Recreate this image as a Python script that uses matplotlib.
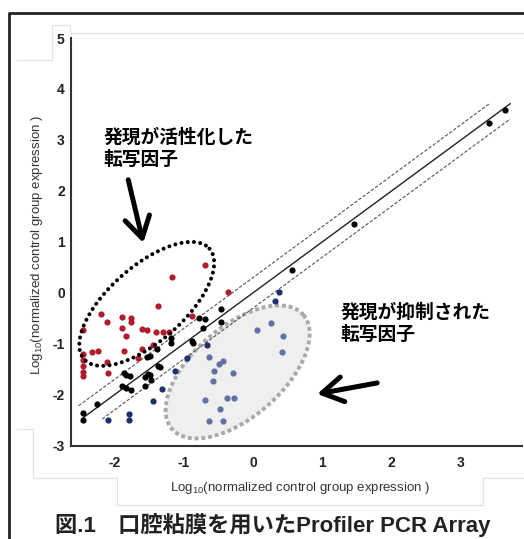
import numpy as np
import matplotlib
matplotlib.use('Agg')
import matplotlib.pyplot as plt
from matplotlib.lines import Line2D

plt.rcParams['font.family'] = ['Liberation Sans', 'DejaVu Sans']
plt.rcParams['mathtext.fontset'] = 'custom'
plt.rcParams['mathtext.rm'] = 'Liberation Sans'
plt.rcParams['mathtext.it'] = 'Liberation Sans'

# --- data (log10 values) ---
red_x = [-1.17, -0.69, -0.37, -1.37, -2.19, -1.89, -1.77, -1.76, -2.11, -1.89,
         -1.61, -1.53, -1.41, -1.30, -1.22, -2.46, -1.83, -0.88, -2.45, -2.33,
         -2.24, -2.45, -2.45, -2.45, -2.45, -2.11, -2.09, -1.86, -1.61, -1.66, -1.45]
red_y = [0.30, 0.55, 0.02, -0.27, -0.42, -0.47, -0.50, -0.58, -0.57, -0.69,
         -0.72, -0.73, -0.77, -0.77, -0.77, -0.73, -0.86, -0.45, -1.20, -1.16,
         -1.15, -1.32, -1.44, -1.55, -1.63, -1.37, -1.58, -1.14, -1.11, -1.29, -1.03]

black_x = [3.64, 3.41, 1.46, 0.56, -0.46, -0.46, -0.78, -0.70, -0.73, -0.88,
           -0.87, -1.18, -1.18, -1.39, -1.53, -1.49, -1.38, -1.34, -1.52, -1.48,
           -1.56, -1.86, -1.83, -1.78, -1.89, -1.83, -1.76, -2.26, -2.46, -2.46,
           -1.56, -1.49]
black_y = [3.59, 3.34, 1.35, 0.45, -0.32, -0.57, -0.50, -0.52, -0.70, -0.94,
           -0.99, -0.89, -0.98, -1.11, -1.27, -1.24, -1.43, -1.46, -1.60, -1.71,
           -1.83, -1.58, -1.61, -1.63, -1.84, -1.88, -1.91, -2.18, -2.36, -2.50,
           -1.65, -1.62]

navy_x = [0.37, 0.31, -0.67, -0.96, -1.13, -1.32, -1.45, -2.09, -1.79, -1.79]
navy_y = [0.02, -0.17, -1.03, -1.29, -1.53, -1.90, -2.13, -2.49, -2.39, -2.49]

blue_x = [0.26, 0.05, 0.43, 0.41, -0.64, -0.49, -0.43, -0.57, -0.29, -0.58,
          -0.70, -0.48, -0.38, -0.27, -0.64, -0.43]
blue_y = [-0.59, -0.74, -0.85, -1.17, -1.27, -1.40, -1.34, -1.53, -1.58, -1.73,
          -2.11, -2.28, -2.06, -2.07, -2.52, -2.52]

# reference lines y = x + offset, with their x extents
line_offsets = [0.0, 0.3, -0.3]
line_ranges = [(-2.45, 3.71), (-2.52, 3.41), (-2.18, 3.71)]

x_ticks = [-2, -1, 0, 1, 2, 3]
y_ticks = [-3, -2, -1, 0, 1, 2, 3, 4, 5]
axis_label = r'Log$_{\mathrm{10}}$(normalized control group expression )'
up_text = '発現が活性化した\n転写因子'
down_text = '発現が抑制された\n転写因子'
caption = '図.1\u3000口腔粘膜を用いたProfiler PCR Array'

W, H = 524, 539
fig = plt.figure(figsize=(W / 100, H / 100), dpi=100)
ax = fig.add_axes([71 / W, 1 - 445.5 / H, 451 / W, 407.5 / H])
ax.set_xlim(-2.63, 3.88)
ax.set_ylim(-3, 5)

# highlighted regions (ellipses: centre + two semi-axis vectors)
t = np.linspace(0, 2 * np.pi, 500)
gc, ga, gb = (-0.224, -1.556), (0.948, 1.122), (0.426, -0.668)
ex = gc[0] + ga[0] * np.cos(t) + gb[0] * np.sin(t)
ey = gc[1] + ga[1] * np.cos(t) + gb[1] * np.sin(t)
ax.fill(ex, ey, color='#efefef', zorder=1, lw=0)
ax.plot(ex, ey, color='#a9a9a9', lw=2.8, ls=(0, (1.0, 0.75)),
        dash_capstyle='butt', zorder=2)

for off, (x0, x1) in zip(line_offsets, line_ranges):
    xs = np.array([x0, x1])
    if off == 0:
        ax.plot(xs, xs + off, color='#222222', lw=1.0, zorder=3)
    else:
        ax.plot(xs, xs + off, color='#555555', lw=0.8, ls=(0, (3, 1.6)), zorder=3)

ax.scatter(blue_x, blue_y, s=20, color='#6072a4', lw=0, zorder=4)
ax.scatter(navy_x, navy_y, s=20, color='#1d2f6c', lw=0, zorder=4)
ax.scatter(red_x, red_y, s=20, color='#b31b2c', lw=0, zorder=4)
ax.scatter(black_x, black_y, s=20, color='#000000', lw=0, zorder=5)

bc, ba, bb = (-1.537, -0.220), (0.906, 1.084), (0.357, -0.554)
bx = bc[0] + ba[0] * np.cos(t) + bb[0] * np.sin(t)
by = bc[1] + ba[1] * np.cos(t) + bb[1] * np.sin(t)
ax.plot(bx, by, color='black', lw=2.9, ls=(0, (0.01, 1.55)),
        dash_capstyle='round', zorder=6)

# arrows and notes
arrow = dict(arrowstyle='->,head_length=0.75,head_width=0.45', lw=3.6,
             color='black', mutation_scale=20, shrinkA=0, shrinkB=0)
ax.annotate('', xy=(-1.587, 0.978), xytext=(-1.804, 2.216), arrowprops=arrow)
ax.annotate('', xy=(0.924, -1.988), xytext=(1.789, -1.772), arrowprops=arrow)
ax.text(-2.165, 2.835, up_text, family=['Noto Sans CJK JP'], fontsize=13.5,
        fontweight='bold', va='center', ha='left', linespacing=1.2)
ax.text(1.255, -0.603, down_text, family=['Noto Sans CJK JP'], fontsize=13.5,
        fontweight='bold', va='center', ha='left', linespacing=1.2)

# axes styling
for s in ['top', 'right']:
    ax.spines[s].set_visible(False)
for s in ['left', 'bottom']:
    ax.spines[s].set_color('#333333')
    ax.spines[s].set_linewidth(1.5)
ax.set_xticks(x_ticks, labels=[str(v) for v in x_ticks],
              fontsize=10, fontweight='bold', color='#222222')
ax.set_yticks(y_ticks, labels=[str(v) for v in y_ticks],
              fontsize=10, fontweight='bold', color='#222222')
ax.tick_params(length=0)
ax.tick_params(axis='x', pad=7.5)
ax.tick_params(axis='y', pad=4.5)
ax.set_xlabel(axis_label, fontsize=9.5, color='#333333')
ax.set_ylabel(axis_label, fontsize=9.5, color='#333333')
ax.xaxis.label.set_va('center')
ax.yaxis.label.set_va('center')
ax.xaxis.set_label_coords(0.508, -0.104)
ax.yaxis.set_label_coords(-0.075, 0.492)

# screenshot frame and faint panel edges (figure pixels)
def px_line(xs, ys, **kw):
    fig.add_artist(Line2D([x / W for x in xs], [1 - y / H for y in ys],
                          transform=fig.transFigure, **kw))

faint = dict(color='#e4e4e4', lw=0.9)
px_line([70, 524], [33, 33], **faint)
px_line([17, 52, 52, 70, 70], [60, 60, 25, 25, 33], **faint)
px_line([17, 33, 33, 117, 117, 483, 483, 524],
        [429, 429, 478, 478, 505, 505, 478, 478], **faint)
px_line([9, 9, 524], [539, 13, 13], color='#222222', lw=2.0)

fig.text(273 / W, 1 - 525 / H, caption, family=['Liberation Sans', 'Noto Sans CJK JP'],
         fontsize=16, fontweight='bold', ha='center', va='center', color='#222222')

fig.savefig('out.png', dpi=100)
